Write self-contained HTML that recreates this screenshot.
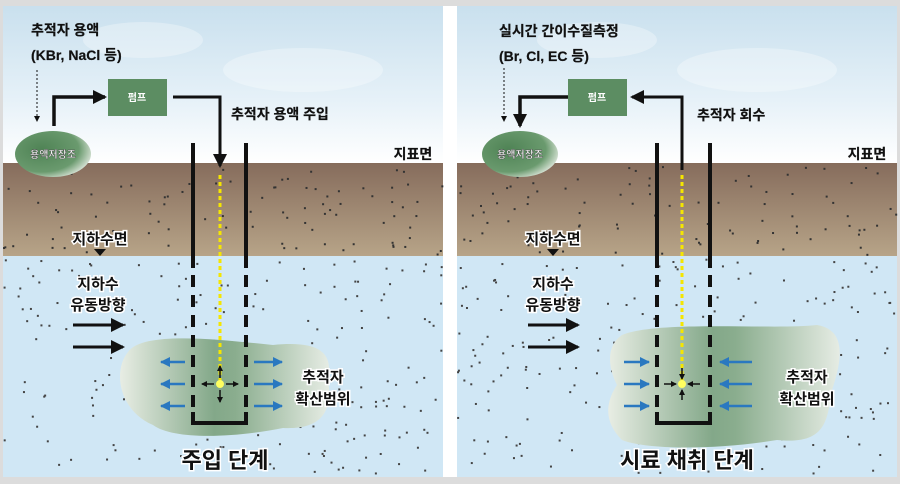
<!DOCTYPE html>
<html><head><meta charset="utf-8">
<style>
html,body{margin:0;padding:0;background:#fff;}
svg{display:block;}
text{font-family:"Liberation Sans","Noto Sans CJK KR",sans-serif;}
</style></head>
<body>
<svg id="s" width="900" height="484" viewBox="0 0 900 484" xmlns="http://www.w3.org/2000/svg">
<defs>
<linearGradient id="sky" x1="0" y1="0" x2="0" y2="1">
<stop offset="0" stop-color="#c9e0ee"/><stop offset="0.6" stop-color="#e6f1f8"/><stop offset="1" stop-color="#ffffff"/>
</linearGradient>
<linearGradient id="soil" x1="0" y1="0" x2="0" y2="1">
<stop offset="0" stop-color="#866c5c"/><stop offset="1" stop-color="#b7a488"/>
</linearGradient>
<radialGradient id="res" cx="0.35" cy="0.4" r="0.7">
<stop offset="0" stop-color="#4f8355"/><stop offset="0.7" stop-color="#6a9a6e"/><stop offset="1" stop-color="#dfe8dd"/>
</radialGradient>
<linearGradient id="plume" x1="0" y1="0" x2="1" y2="0">
<stop offset="0" stop-color="#e8ede4"/><stop offset="0.45" stop-color="#83a889"/><stop offset="0.55" stop-color="#8aad8e"/><stop offset="1" stop-color="#e6ece4"/>
</linearGradient>
<marker id="ah" markerWidth="8" markerHeight="8" refX="6" refY="4" orient="auto" markerUnits="userSpaceOnUse"><path d="M0,0 L8,4 L0,8 Z" fill="#111"/></marker>
<marker id="ab" markerWidth="14" markerHeight="14" refX="12" refY="7" orient="auto" markerUnits="userSpaceOnUse"><path d="M0,0 L14,7 L0,14 Z" fill="#111"/></marker>
<marker id="abl" markerWidth="10" markerHeight="10" refX="9" refY="5" orient="auto" markerUnits="userSpaceOnUse"><path d="M0,0 L10,5 L0,10 Z" fill="#2a78c0"/></marker>
<marker id="as" markerWidth="6" markerHeight="6" refX="5" refY="3" orient="auto" markerUnits="userSpaceOnUse"><path d="M0,0 L6,3 L0,6 Z" fill="#111"/></marker>
</defs>
<rect x="0" y="0" width="900" height="6" fill="#dcdcdc"/>
<rect x="0" y="477" width="900" height="7" fill="#dcdcdc"/>
<rect x="0" y="0" width="3" height="484" fill="#dcdcdc"/>
<rect x="897" y="0" width="3" height="484" fill="#dcdcdc"/>
<g id="panels"></g>
</svg>
<script>
var NS="http://www.w3.org/2000/svg";
var g=document.getElementById("panels");
function el(t,a,p){var e=document.createElementNS(NS,t);for(var k in a)e.setAttribute(k,a[k]);(p||g).appendChild(e);return e;}
function txt(x,y,s,sz,o){var a={x:x,y:y,"font-size":sz,fill:"#111","text-anchor":"middle","font-weight":"bold","stroke":"#111","stroke-width":0.2};for(var k in o)a[k]=o[k];var e=el("text",a);e.textContent=s;return e;}
var seed=7;function rnd(){seed=(seed*16807)%2147483647;return seed/2147483647;}
function panel(ox,right){
 var W=440;
 el("rect",{x:ox,y:6,width:W,height:157,fill:"url(#sky)"});
 el("ellipse",{cx:ox+140,cy:40,rx:60,ry:18,fill:"#fff",opacity:0.3});
 el("ellipse",{cx:ox+300,cy:70,rx:80,ry:22,fill:"#fff",opacity:0.3});
 el("rect",{x:ox,y:163,width:W,height:93,fill:"url(#soil)"});
 el("rect",{x:ox,y:256,width:W,height:221,fill:"#d0e7f5"});
 for(var i=0;i<90;i++){el("rect",{x:ox+rnd()*W,y:166+rnd()*88,width:2,height:2,fill:"#333"});}
 for(var i=0;i<220;i++){el("rect",{x:ox+rnd()*W,y:258+rnd()*217,width:2,height:2,fill:"#444"});}
 var w1,w2,c;
 if(!right){w1=ox+190;w2=ox+243;c=ox+217;
  el("path",{d:"M"+(ox+125)+",352 C"+(ox+140)+",330 "+(ox+220)+",340 "+(ox+270)+",345 C"+(ox+320)+",340 "+(ox+330)+",355 "+(ox+325)+",380 C"+(ox+330)+",410 "+(ox+320)+",430 "+(ox+280)+",428 C"+(ox+230)+",438 "+(ox+170)+",440 "+(ox+150)+",425 C"+(ox+115)+",410 "+(ox+110)+",370 "+(ox+125)+",352 Z",fill:"url(#plume)"});
 } else {w1=ox+200;w2=ox+253;c=ox+225;
  el("path",{d:"M"+(ox+165)+",335 C"+(ox+200)+",320 "+(ox+320)+",330 "+(ox+360)+",325 C"+(ox+390)+",330 "+(ox+385)+",360 "+(ox+375)+",390 C"+(ox+370)+",420 "+(ox+370)+",445 "+(ox+320)+",440 C"+(ox+260)+",450 "+(ox+190)+",450 "+(ox+165)+",440 C"+(ox+145)+",420 "+(ox+150)+",400 "+(ox+160)+",385 C"+(ox+150)+",365 "+(ox+150)+",345 "+(ox+165)+",335 Z",fill:"url(#plume)"});
 }
 [w1,w2].forEach(function(x){
  el("line",{x1:x,y1:143,x2:x,y2:268,stroke:"#111","stroke-width":4});
  el("line",{x1:x,y1:275,x2:x,y2:420,stroke:"#111","stroke-width":4,"stroke-dasharray":"12,8"});
 });
 el("path",{d:"M"+w1+",412 V423 H"+w2+" V412",fill:"none",stroke:"#111","stroke-width":4});
 el("line",{x1:c,y1:175,x2:c,y2:382,stroke:"#f5e600","stroke-width":3,"stroke-dasharray":"4,3"});
 el("circle",{cx:c,cy:384,r:4,fill:"#ffff60"});
 if(!right){
  [[c-6,384,c-18,384],[c+6,384,c+18,384],[c,378,c,366],[c,390,c,402]].forEach(function(a){el("line",{x1:a[0],y1:a[1],x2:a[2],y2:a[3],stroke:"#111","stroke-width":1.5,"marker-end":"url(#as)"});});
  [362,384,406].forEach(function(y){
   el("line",{x1:w1-8,y1:y,x2:w1-32,y2:y,stroke:"#2a78c0","stroke-width":2.5,"marker-end":"url(#abl)"});
   el("line",{x1:w2+8,y1:y,x2:w2+36,y2:y,stroke:"#2a78c0","stroke-width":2.5,"marker-end":"url(#abl)"});
  });
 } else {
  [[c-18,384,c-6,384],[c+18,384,c+6,384],[c,368,c,379],[c,400,c,390]].forEach(function(a){el("line",{x1:a[0],y1:a[1],x2:a[2],y2:a[3],stroke:"#111","stroke-width":1.5,"marker-end":"url(#as)"});});
  [362,384,406].forEach(function(y){
   el("line",{x1:w1-33,y1:y,x2:w1-8,y2:y,stroke:"#2a78c0","stroke-width":2.5,"marker-end":"url(#abl)"});
   el("line",{x1:w2+42,y1:y,x2:w2+10,y2:y,stroke:"#2a78c0","stroke-width":2.5,"marker-end":"url(#abl)"});
  });
 }
 var rx=right?ox+25:ox+12, px=right?ox+111:ox+105;
 el("ellipse",{cx:rx+38,cy:154,rx:38,ry:23,fill:"url(#res)"});
 txt(rx+38,158,"용액저장조",10,{fill:"#fff",stroke:"#444","stroke-width":0.4});
 el("rect",{x:px,y:79,width:59,height:37,fill:"#5c8d62"});
 txt(px+29,101,"펌프",10,{fill:"#fff",stroke:"none"});
 if(!right){
  el("path",{d:"M"+(ox+51)+",126 V97 H"+(px-3),fill:"none",stroke:"#111","stroke-width":3.5,"marker-end":"url(#ab)"});
  el("path",{d:"M"+(px+65)+",97 H"+c+" V166",fill:"none",stroke:"#111","stroke-width":3,"marker-end":"url(#ab)"});
  el("line",{x1:ox+34,y1:70,x2:ox+34,y2:121,stroke:"#111","stroke-width":1,"stroke-dasharray":"2,2","marker-end":"url(#as)"});
  txt(ox+28,35,"추적자 용액",14,{"text-anchor":"start"});
  txt(ox+28,60,"(KBr, NaCl 등)",14,{"text-anchor":"start"});
  txt(ox+228,119,"추적자 용액 주입",14,{"text-anchor":"start"});
 } else {
  el("path",{d:"M"+c+",170 V97 H"+(px+64),fill:"none",stroke:"#111","stroke-width":3,"marker-end":"url(#ab)"});
  el("path",{d:"M"+px+",97 H"+(ox+63)+" V126",fill:"none",stroke:"#111","stroke-width":3.5,"marker-end":"url(#ab)"});
  el("line",{x1:ox+47,y1:68,x2:ox+47,y2:121,stroke:"#111","stroke-width":1,"stroke-dasharray":"2,2","marker-end":"url(#as)"});
  txt(ox+42,36,"실시간 간이수질측정",14,{"text-anchor":"start"});
  txt(ox+42,61,"(Br, Cl, EC 등)",14,{"text-anchor":"start"});
  txt(ox+240,120,"추적자 회수",14,{"text-anchor":"start"});
 }
 txt(ox+410,159,"지표면",14);
 var halo={stroke:"#fff","stroke-width":3,"paint-order":"stroke"};
 var wx=right?ox+96:ox+97;
 txt(wx,244,"지하수면",15,halo);
 el("path",{d:"M"+(wx-6)+",249 L"+(wx+6)+",249 L"+wx+",256 Z",fill:"#111"});
 var fx=right?ox+96:ox+95;
 txt(fx,289,"지하수",15,halo);
 txt(fx,310,"유동방향",15,halo);
 [325,347].forEach(function(y){el("line",{x1:fx-25,y1:y,x2:fx+25,y2:y,stroke:"#111","stroke-width":3,"marker-end":"url(#ab)"});});
 var lx=right?ox+350:ox+320;
 txt(lx,382,"추적자",15,halo);
 txt(lx,404,"확산범위",15,halo);
 txt(right?ox+230:ox+222,468,right?"시료 채취 단계":"주입 단계",22,halo);
}
panel(3,false);panel(457,true);
</script>
</body></html>
